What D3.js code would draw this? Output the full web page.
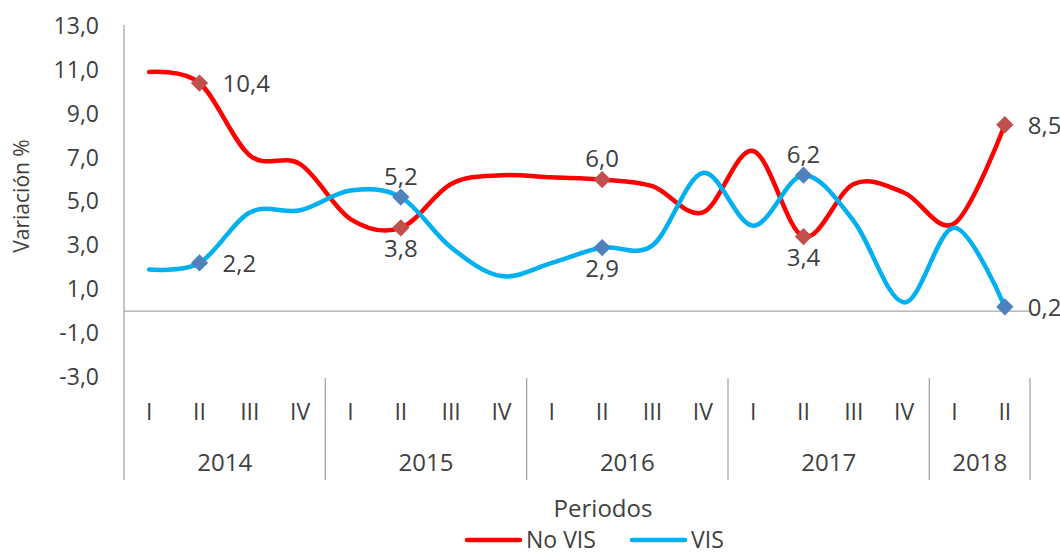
<!DOCTYPE html>
<html>
<head>
<meta charset="utf-8">
<script src="https://cdn.jsdelivr.net/npm/d3@7"></script>
<style>
  body { margin: 0; background: #fff; }
  svg text { font-family: 'Open Sans', sans-serif; fill: #404040; }
</style>
</head>
<body>
<svg id="chart" width="1060" height="556"></svg>
<script>
const quarters = ['I', 'II', 'III', 'IV', 'I', 'II', 'III', 'IV', 'I', 'II', 'III', 'IV', 'I', 'II', 'III', 'IV', 'I', 'II'];
const years = ['2014', '2015', '2016', '2017', '2018'];
const yearSpan = [4, 4, 4, 4, 2];
const noVis = [10.9, 10.4, 7.1, 6.7, 4.2, 3.8, 5.8, 6.2, 6.1, 6.0, 5.7, 4.5, 7.3, 3.4, 5.8, 5.4, 4.0, 8.5];
const vis = [1.9, 2.2, 4.5, 4.6, 5.5, 5.2, 2.9, 1.6, 2.2, 2.9, 3.0, 6.3, 3.9, 6.2, 4.1, 0.4, 3.8, 0.2];
const labelled = [1, 5, 9, 13, 17];
const noVisLabelPos = ['right', 'below', 'above', 'below', 'right'];
const visLabelPos = ['right', 'above', 'below', 'above', 'right'];
const yTicks = [13, 11, 9, 7, 5, 3, 1, -1, -3];

const svg = d3.select('#chart');
const plot = {left: 124, right: 1030, top: 26, bottom: 377};
const axisBottom = 480;
const fmt = (v) => v.toFixed(1).replace('.', ',');

const keys = quarters.map((q, i) => i);
const x = d3.scaleBand().domain(keys).range([plot.left, plot.right]).padding(0);
const cx = (i) => x(i) + x.bandwidth() / 2;
const y = d3.scaleLinear().domain([-3, 13]).range([plot.bottom, plot.top]);

// y axis
const yAxis = d3.axisLeft(y).tickValues(yTicks).tickSize(0).tickPadding(25).tickFormat(fmt);
const gy = svg.append('g').attr('transform', `translate(${plot.left},0)`).call(yAxis);
gy.select('.domain').remove();
gy.selectAll('text').style('font-size', '23px').style('font-family', "'Open Sans', sans-serif").attr('fill', '#404040');

svg.append('line')
  .attr('x1', plot.left).attr('x2', plot.left)
  .attr('y1', plot.top - 1).attr('y2', axisBottom)
  .attr('stroke', '#a6a6a6').attr('stroke-width', 1.3);

// zero line
svg.append('line')
  .attr('x1', plot.left).attr('x2', plot.right)
  .attr('y1', y(0)).attr('y2', y(0))
  .attr('stroke', '#a6a6a6').attr('stroke-width', 1.3);

// category labels
svg.append('g').selectAll('text').data(quarters).join('text')
  .attr('x', (d, i) => cx(i))
  .attr('y', 412)
  .attr('dy', '0.35em')
  .attr('text-anchor', 'middle')
  .style('font-size', '23px')
  .text((d) => d);

let start = 0;
const yearData = years.map((yr, j) => {
  const d = {yr, s: start, e: start + yearSpan[j] - 1};
  start += yearSpan[j];
  return d;
});
svg.append('g').selectAll('text').data(yearData).join('text')
  .attr('x', (d) => (x(d.s) + x(d.e) + x.bandwidth()) / 2)
  .attr('y', 463)
  .attr('dy', '0.35em')
  .attr('text-anchor', 'middle')
  .style('font-size', '24px')
  .text((d) => d.yr);

svg.append('g').selectAll('line').data(yearData).join('line')
  .attr('x1', (d) => x(d.e) + x.bandwidth())
  .attr('x2', (d) => x(d.e) + x.bandwidth())
  .attr('y1', plot.bottom + 1).attr('y2', axisBottom)
  .attr('stroke', '#a6a6a6').attr('stroke-width', 1.3);

// lines
const line = d3.line()
  .x((d, i) => cx(i))
  .y((d) => y(d))
  .curve(d3.curveCatmullRom.alpha(0));

function drawSeries(values, color, markerColor, positions) {
  svg.append('path')
    .datum(values)
    .attr('d', line)
    .attr('fill', 'none')
    .attr('stroke', color)
    .attr('stroke-width', 4.5)
    .attr('stroke-linecap', 'round');

  const pts = labelled.map((i, k) => ({i, v: values[i], pos: positions[k]}));
  svg.append('g').selectAll('path').data(pts).join('path')
    .attr('d', d3.symbol().type(d3.symbolSquare).size(150))
    .attr('transform', (d) => `translate(${cx(d.i)},${y(d.v)}) rotate(45)`)
    .attr('fill', markerColor);

  svg.append('g').selectAll('text').data(pts).join('text')
    .attr('x', (d) => d.pos === 'right' ? cx(d.i) + 23 : cx(d.i))
    .attr('y', (d) => d.pos === 'above' ? y(d.v) - 21 : d.pos === 'below' ? y(d.v) + 21 : y(d.v) + 1)
    .attr('dy', '0.35em')
    .attr('text-anchor', (d) => d.pos === 'right' ? 'start' : 'middle')
    .style('font-size', '24px')
    .text((d) => fmt(d.v));
}

drawSeries(noVis, '#ff0000', '#c0504d', noVisLabelPos);
drawSeries(vis, '#00b0f0', '#4f81bd', visLabelPos);

// axis titles
svg.append('text')
  .attr('transform', 'translate(22,196) rotate(-90)')
  .attr('text-anchor', 'middle')
  .attr('dy', '0.35em')
  .style('font-size', '21px')
  .text('Variación %');

svg.append('text')
  .attr('x', 603).attr('y', 509)
  .attr('dy', '0.35em')
  .attr('text-anchor', 'middle')
  .style('font-size', '24px')
  .text('Periodos');

// legend
const legend = [
  {name: 'No VIS', color: '#ff0000', x0: 467},
  {name: 'VIS', color: '#00b0f0', x0: 632},
];
const lg = svg.append('g').selectAll('g').data(legend).join('g')
  .attr('transform', (d) => `translate(${d.x0},540)`);
lg.append('line')
  .attr('x1', 0).attr('x2', 53)
  .attr('stroke', (d) => d.color)
  .attr('stroke-width', 4.5)
  .attr('stroke-linecap', 'round');
lg.append('text')
  .attr('x', 59)
  .attr('dy', '0.35em')
  .style('font-size', '23px')
  .text((d) => d.name);
</script>
</body>
</html>
